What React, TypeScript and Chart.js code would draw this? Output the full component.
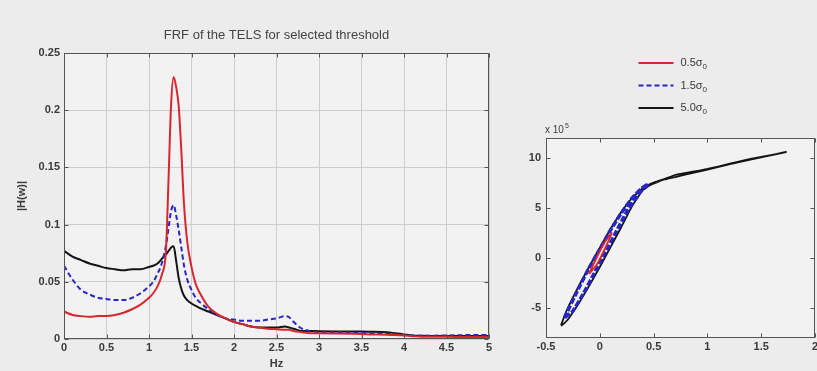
import React, { useEffect, useRef } from "react";
import { Chart, registerables } from "chart.js";

Chart.register(...registerables);
Chart.defaults.font.family = "'Liberation Sans', Arial, sans-serif";

// ---------- data: FRF (left) ----------
const freqHz = [
  0, 0.1, 0.2, 0.3, 0.4, 0.5, 0.6, 0.7, 0.8, 0.9, 1.0, 1.05, 1.1, 1.15, 1.2, 1.23, 1.26, 1.29,
  1.32, 1.35, 1.38, 1.41, 1.45, 1.5, 1.55, 1.6, 1.7, 1.8, 1.9, 2.0, 2.1, 2.2, 2.3, 2.4, 2.5,
  2.6, 2.65, 2.7, 2.8, 2.9, 3.0, 3.2, 3.4, 3.6, 3.8, 3.9, 4.0, 4.1, 4.2, 4.4, 4.6, 4.8, 5.0,
];
const frf05 = [
  0.024, 0.021, 0.02, 0.0195, 0.02, 0.02, 0.021, 0.023, 0.026, 0.03, 0.036, 0.04, 0.046, 0.056,
  0.078, 0.14, 0.205, 0.229, 0.22, 0.203, 0.165, 0.12, 0.085, 0.063, 0.048, 0.04, 0.028, 0.022,
  0.018, 0.015, 0.013, 0.011, 0.01, 0.009, 0.0085, 0.008, 0.008, 0.007, 0.006, 0.005, 0.005,
  0.0048, 0.0045, 0.004, 0.0038, 0.0035, 0.003, 0.0025, 0.002, 0.002, 0.0018, 0.0018, 0.0018,
];
const frf15 = [
  0.064, 0.052, 0.043, 0.039, 0.036, 0.035, 0.034, 0.034, 0.036, 0.04, 0.046, 0.05, 0.057, 0.066,
  0.082, 0.097, 0.112, 0.117, 0.108, 0.095, 0.08, 0.065, 0.052, 0.043, 0.036, 0.032, 0.026, 0.021,
  0.018, 0.017, 0.016, 0.016, 0.016, 0.017, 0.018, 0.02, 0.019, 0.015, 0.009, 0.007, 0.006,
  0.006, 0.0055, 0.005, 0.0045, 0.004, 0.0035, 0.003, 0.0028, 0.003, 0.0032, 0.0035, 0.0035,
];
const frf50 = [
  0.077, 0.072, 0.069, 0.066, 0.064, 0.062, 0.061, 0.06, 0.061, 0.061, 0.063, 0.064, 0.066, 0.07,
  0.074, 0.077, 0.08, 0.081, 0.068, 0.053, 0.044, 0.038, 0.034, 0.031, 0.029, 0.027, 0.024, 0.021,
  0.018, 0.015, 0.013, 0.011, 0.01, 0.01, 0.01, 0.011, 0.01, 0.009, 0.007, 0.007, 0.0068, 0.0066,
  0.0065, 0.0064, 0.006, 0.005, 0.004, 0.003, 0.0028, 0.0027, 0.0026, 0.0026, 0.0026,
];
const frfXTicks = [0, 0.5, 1, 1.5, 2, 2.5, 3, 3.5, 4, 4.5, 5];
const frfYTicks = [0, 0.05, 0.1, 0.15, 0.2, 0.25];

// ---------- data: hysteresis loops (right), force in units of 1e5 ----------
const hys05X = [-0.1, -0.04, 0.04, 0.11, 0.05, -0.03, -0.1];
const hys05Y = [-1.6, -0.2, 1.5, 2.5, 1.0, -0.7, -1.6];
const hys15X = [-0.33, -0.2, -0.1, 0, 0.1, 0.2, 0.3, 0.38, 0.45, 0.36, 0.25, 0.15, 0.05, -0.05, -0.15, -0.25, -0.33];
const hys15Y = [-6.0, -3.1, -1.0, 0.9, 2.8, 4.5, 6.0, 6.9, 7.4, 6.4, 4.6, 2.6, 0.5, -1.5, -3.5, -5.3, -6.0];
const hys50X = [
  -0.36, -0.31, -0.2, -0.1, 0, 0.1, 0.2, 0.3, 0.4, 0.5, 0.6, 0.7, 0.85, 1.0, 1.2, 1.4, 1.6, 1.73,
  1.4, 1.0, 0.6, 0.47, 0.4, 0.3, 0.2, 0.1, 0, -0.1, -0.2, -0.3, -0.36,
];
const hys50Y = [
  -6.7, -5.3, -2.9, -0.9, 1.0, 2.9, 4.6, 6.0, 7.0, 7.55, 7.9, 8.3, 8.6, 8.9, 9.4, 9.9, 10.3, 10.6,
  9.85, 8.85, 7.85, 7.3, 6.8, 5.2, 3.1, 1.1, -0.9, -2.8, -4.6, -6.2, -6.8,
];
const hysXTicks = [-0.5, 0, 0.5, 1, 1.5, 2];
const hysYTicks = [-5, 0, 5, 10];

const seriesLabels = ["0.5σ₀", "1.5σ₀", "5.0σ₀"];
const seriesColors = ["#d8262f", "#2626c0", "#141414"];
const seriesDash: number[][] = [[], [5, 3], []];

const PAGE_BG = "#ececec";
const PLOT_BG = "#f2f2f2";
const AXIS = "#555555";
const TEXT = "#3a3a3a";

const toXY = (xs: number[], ys: number[]) => xs.map((x, i) => ({ x, y: ys[i] }));
const fmt = (v: any) => String(Math.round(Number(v) * 1000) / 1000);

const framePlugin = {
  id: "frame",
  beforeDraw(chart: any) {
    const { ctx, chartArea: a } = chart;
    ctx.save();
    ctx.fillStyle = PLOT_BG;
    ctx.fillRect(a.left, a.top, a.right - a.left, a.bottom - a.top);
    ctx.restore();
  },
  afterDraw(chart: any) {
    const { ctx, chartArea: a, scales } = chart;
    const L = Math.round(a.left) + 0.5;
    const R = Math.round(a.right) - 0.5;
    const T = Math.round(a.top) + 0.5;
    const B = Math.round(a.bottom) - 0.5;
    ctx.save();
    ctx.strokeStyle = AXIS;
    ctx.lineWidth = 1;
    ctx.strokeRect(L, T, R - L, B - T);
    ctx.beginPath();
    scales.x.ticks.forEach((t: any) => {
      const px = Math.round(scales.x.getPixelForValue(t.value)) + 0.5;
      ctx.moveTo(px, B);
      ctx.lineTo(px, B - 4);
      ctx.moveTo(px, T);
      ctx.lineTo(px, T + 4);
    });
    scales.y.ticks.forEach((t: any) => {
      const py = Math.round(scales.y.getPixelForValue(t.value)) + 0.5;
      ctx.moveTo(L, py);
      ctx.lineTo(L + 4, py);
      ctx.moveTo(R, py);
      ctx.lineTo(R - 4, py);
    });
    ctx.stroke();
    ctx.restore();
  },
};

const sideLegendPlugin = {
  id: "sideLegend",
  afterDraw(chart: any) {
    const { ctx, chartArea: a } = chart;
    const cx = (a.left + a.right) / 2;
    ctx.save();
    chart.data.datasets.forEach((ds: any, i: number) => {
      const y = a.top - 75 + i * 22.5;
      ctx.strokeStyle = ds.borderColor;
      ctx.lineWidth = 2;
      ctx.setLineDash(i === 1 ? [5, 3] : []);
      ctx.beginPath();
      ctx.moveTo(cx - 42, y);
      ctx.lineTo(cx - 7, y);
      ctx.stroke();
      ctx.setLineDash([]);
      const label: string = ds.label;
      const base = label.slice(0, -1);
      ctx.fillStyle = TEXT;
      ctx.textBaseline = "middle";
      ctx.textAlign = "left";
      ctx.font = "11px 'Liberation Sans', Arial, sans-serif";
      ctx.fillText(base, cx, y);
      const w = ctx.measureText(base).width;
      ctx.font = "8px 'Liberation Sans', Arial, sans-serif";
      ctx.fillText("0", cx + w, y + 4);
    });
    ctx.fillStyle = TEXT;
    ctx.textBaseline = "alphabetic";
    ctx.textAlign = "left";
    ctx.font = "10px 'Liberation Sans', Arial, sans-serif";
    ctx.fillText("x 10", a.left - 1, a.top - 5);
    const w2 = ctx.measureText("x 10").width;
    ctx.font = "7px 'Liberation Sans', Arial, sans-serif";
    ctx.fillText("5", a.left - 1 + w2 + 1, a.top - 10);
    ctx.restore();
  },
};

const tickFont = { size: 11, weight: "bold" as const };

function FrfChart() {
  const ref = useRef<HTMLCanvasElement>(null);
  useEffect(() => {
    const chart = new Chart(ref.current!, {
      type: "line",
      data: {
        datasets: [
          { label: seriesLabels[0], data: toXY(freqHz, frf05) },
          { label: seriesLabels[1], data: toXY(freqHz, frf15) },
          { label: seriesLabels[2], data: toXY(freqHz, frf50) },
        ].map((d, i) => ({
          ...d,
          borderColor: seriesColors[i],
          backgroundColor: seriesColors[i],
          borderDash: seriesDash[i],
          borderWidth: 2,
          pointRadius: 0,
          cubicInterpolationMode: "monotone" as const,
          fill: false,
        })),
      },
      options: {
        animation: false,
        responsive: false,
        devicePixelRatio: 1,
        layout: { padding: { top: 0, right: 11, left: 0, bottom: 0 } },
        plugins: {
          legend: { display: false },
          tooltip: { enabled: false },
          title: {
            display: true,
            text: "FRF of the TELS for selected threshold",
            fullSize: false,
            color: "#444",
            font: { size: 13, weight: "normal" },
            padding: { top: 28, bottom: 9.4 },
          },
        },
        scales: {
          x: {
            type: "linear",
            min: 0,
            max: 5,
            afterBuildTicks: (s: any) => {
              s.ticks = frfXTicks.map((v) => ({ value: v }));
            },
            afterFit: (s: any) => {
              s.height = 32;
              s.paddingLeft = 0;
              s.paddingRight = 0;
            },
            grid: { color: "#cdcdcd", drawTicks: false },
            border: { display: false },
            ticks: { color: TEXT, font: tickFont, padding: 2, maxRotation: 0, autoSkip: false, callback: fmt },
            title: { display: true, text: "Hz", color: TEXT, font: { size: 11, weight: "bold" }, padding: { top: 0, bottom: 0 } },
          },
          y: {
            type: "linear",
            min: 0,
            max: 0.25,
            afterBuildTicks: (s: any) => {
              s.ticks = frfYTicks.map((v) => ({ value: v }));
            },
            afterFit: (s: any) => {
              s.width = 64;
            },
            grid: { color: "#cdcdcd", drawTicks: false },
            border: { display: false },
            ticks: { color: TEXT, font: tickFont, padding: 4, autoSkip: false, callback: fmt },
            title: { display: true, text: "|H(w)|", color: TEXT, font: { size: 11, weight: "bold" }, padding: { top: 15, bottom: 0 } },
          },
        },
      },
      plugins: [framePlugin],
    } as any);
    return () => chart.destroy();
  }, []);
  return <canvas ref={ref} width={500} height={371} style={{ position: "absolute", left: 0, top: 0 }} />;
}

function HysChart() {
  const ref = useRef<HTMLCanvasElement>(null);
  useEffect(() => {
    const chart = new Chart(ref.current!, {
      type: "line",
      data: {
        datasets: [
          { label: seriesLabels[0], data: toXY(hys05X, hys05Y) },
          { label: seriesLabels[1], data: toXY(hys15X, hys15Y) },
          { label: seriesLabels[2], data: toXY(hys50X, hys50Y) },
        ].map((d, i) => ({
          ...d,
          borderColor: seriesColors[i],
          backgroundColor: seriesColors[i],
          borderDash: i === 1 ? [6, 2] : seriesDash[i],
          borderWidth: i === 1 ? 3.5 : 1.8,
          pointRadius: 0,
          tension: 0.1,
          fill: false,
        })),
      },
      options: {
        animation: false,
        responsive: false,
        devicePixelRatio: 1,
        layout: { padding: { top: 138, right: 2, left: 0, bottom: 0 } },
        plugins: {
          legend: { display: false },
          tooltip: { enabled: false },
          title: { display: false },
        },
        scales: {
          x: {
            type: "linear",
            min: -0.5,
            max: 2,
            afterBuildTicks: (s: any) => {
              s.ticks = hysXTicks.map((v) => ({ value: v }));
            },
            afterFit: (s: any) => {
              s.height = 33;
              s.paddingLeft = 0;
              s.paddingRight = 0;
            },
            grid: { display: false, drawTicks: false },
            border: { display: false },
            ticks: { color: TEXT, font: tickFont, padding: 2, maxRotation: 0, autoSkip: false, callback: fmt },
          },
          y: {
            type: "linear",
            min: -8,
            max: 12,
            afterBuildTicks: (s: any) => {
              s.ticks = hysYTicks.map((v) => ({ value: v }));
            },
            afterFit: (s: any) => {
              s.width = 46;
            },
            grid: { display: false, drawTicks: false },
            border: { display: false },
            ticks: { color: TEXT, font: tickFont, padding: 5, autoSkip: false, callback: fmt },
          },
        },
      },
      plugins: [framePlugin, sideLegendPlugin],
    } as any);
    return () => chart.destroy();
  }, []);
  return <canvas ref={ref} width={317} height={371} style={{ position: "absolute", left: 500, top: 0 }} />;
}

export default function App() {
  return (
    <div
      style={{
        position: "fixed",
        left: 0,
        top: 0,
        width: 817,
        height: 371,
        background: PAGE_BG,
        overflow: "hidden",
      }}
    >
      <FrfChart />
      <HysChart />
    </div>
  );
}
